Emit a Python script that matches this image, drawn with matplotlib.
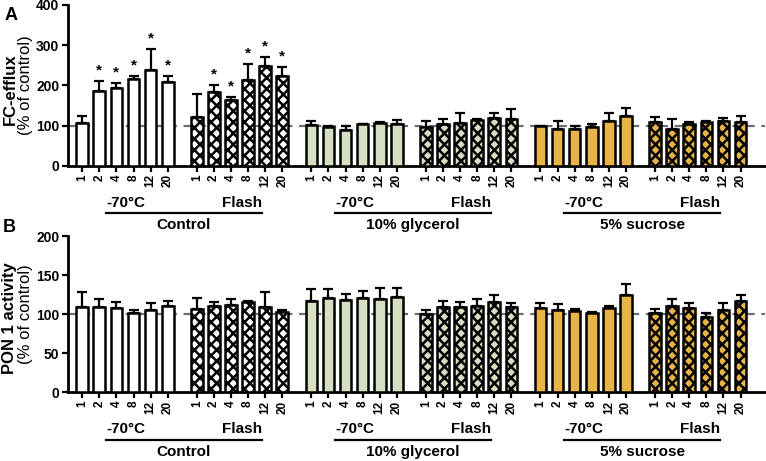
import matplotlib
matplotlib.use("Agg")
import matplotlib.pyplot as plt
import matplotlib.transforms as mtrans
import numpy as np

plt.rcParams['font.family'] = ['Liberation Sans', 'DejaVu Sans']
plt.rcParams['hatch.linewidth'] = 1.8

# ---------------- data ----------------
time_labels = ['1', '2', '4', '8', '12', '20']
series_names = ['Control -70', 'Control Flash', 'Glycerol -70', 'Glycerol Flash',
                'Sucrose -70', 'Sucrose Flash']
group_names = ['Control', '10% glycerol', '5% sucrose']
sub_left = '-70°C'
sub_right = 'Flash'

# Panel A: FC-efflux (% of control)
fc_ctrl_70 = [106, 187, 193, 217, 237, 208]
fc_ctrl_70_err = [18, 25, 12, 7, 54, 16]
fc_ctrl_flash = [122, 183, 164, 214, 249, 224]
fc_ctrl_flash_err = [57, 17, 6, 39, 22, 21]
fc_gly_70 = [101, 97, 89, 103, 107, 105]
fc_gly_70_err = [10, 2, 11, 1, 2, 8]
fc_gly_flash = [97, 103, 107, 113, 118, 117]
fc_gly_flash_err = [14, 12, 25, 3, 12, 25]
fc_suc_70 = [99, 92, 92, 97, 112, 123]
fc_suc_70_err = [1, 19, 7, 7, 20, 21]
fc_suc_flash = [108, 92, 105, 109, 111, 108]
fc_suc_flash_err = [13, 25, 4, 3, 8, 16]
fc_stars_ctrl_70 = [False, True, True, True, True, True]
fc_stars_ctrl_flash = [False, True, True, True, True, True]

# Panel B: PON 1 activity (% of control)
pon_ctrl_70 = [110, 110, 108, 102, 106, 111]
pon_ctrl_70_err = [18, 10, 8, 4, 9, 6]
pon_ctrl_flash = [107, 111, 112, 116, 109, 103]
pon_ctrl_flash_err = [14, 5, 7, 1, 19, 3]
pon_gly_70 = [117, 121, 118, 121, 120, 122]
pon_gly_70_err = [15, 11, 8, 9, 14, 12]
pon_gly_flash = [100, 110, 109, 111, 116, 109]
pon_gly_flash_err = [6, 7, 7, 9, 9, 6]
pon_suc_70 = [108, 106, 104, 102, 108, 125]
pon_suc_70_err = [7, 7, 3, 1, 3, 14]
pon_suc_flash = [102, 111, 108, 97, 105, 117]
pon_suc_flash_err = [5, 8, 7, 5, 9, 8]

# ---------------- style ----------------
WHITE = '#ffffff'
GREEN = '#d5dfc1'
ORANGE = '#e9b447'
fills = [WHITE, WHITE, GREEN, GREEN, ORANGE, ORANGE]
hatches = [None, 'xxx', None, 'xxx', None, 'xxx']
GROUP_PITCH = 6.7

W, H = 766, 461
fig = plt.figure(figsize=(W / 100, H / 100), dpi=100)


def px_axes(left, top, right, bottom):
    return fig.add_axes([left / W, 1 - bottom / H, (right - left) / W, (bottom - top) / H])


axA = px_axes(67.5, 5, 765, 165.7)
axB = px_axes(67.5, 236.3, 765, 392.3)


def draw_panel(ax, vals, errs, ymax, ystep, ylabel_bold, stars=None):
    xs_all = []
    for s, (v, e) in enumerate(zip(vals, errs)):
        xs = np.arange(6) + s * GROUP_PITCH
        xs_all.extend(xs)
        bars = ax.bar(xs, v, width=0.68, color=fills[s], edgecolor='black',
                      linewidth=1.8, zorder=3)
        if hatches[s]:
            for b in bars:
                b.set_hatch(hatches[s])
        ax.errorbar(xs, v, yerr=[np.zeros(6), e], fmt='none', ecolor='black',
                    elinewidth=1.6, capsize=3.5, capthick=1.6, zorder=2)
        if stars is not None and stars[s] is not None:
            for x, vv, ee, st in zip(xs, v, e, stars[s]):
                if st:
                    ax.annotate('*', xy=(x, vv + ee), xytext=(0, 2.5),
                                textcoords='offset points', ha='center', va='bottom',
                                fontsize=11, fontweight='bold')
    ax.axhline(100, color='#6e6e6e', linestyle=(0, (3.5, 3)), linewidth=1.6, zorder=1)
    ax.set_xlim(-0.86, 39.93)
    ax.set_ylim(0, ymax)
    ax.set_yticks(np.arange(0, ymax + 1, ystep))
    ax.set_xticks(xs_all)
    ax.set_xticklabels(time_labels * 6, rotation=90, fontsize=8.5, fontweight='bold')
    for lab in ax.get_yticklabels():
        lab.set_fontweight('bold')
        lab.set_fontsize(10)
    ax.tick_params(axis='both', direction='out', length=4, width=1.6, pad=2)
    for sp in ['top', 'right']:
        ax.spines[sp].set_visible(False)
    for sp in ['left', 'bottom']:
        ax.spines[sp].set_linewidth(2)

    # group annotations below axis
    trans = mtrans.blended_transform_factory(ax.transData, fig.transFigure)
    bottom_px = (1 - ax.get_position().y0) * H
    for p, gname in enumerate(group_names):
        c = p * 2 * GROUP_PITCH + (GROUP_PITCH + 5) / 2 + 0.1
        x0, x1 = c - 4.55, c + 4.55
        y_sub = 1 - (bottom_px + 37) / H
        y_line = 1 - (bottom_px + 47.3) / H
        y_grp = 1 - (bottom_px + 59.5) / H
        ax.plot([x0, x1], [y_line, y_line], color='black', linewidth=1.6,
                transform=trans, clip_on=False)
        ax.text(x0, y_sub, sub_left, transform=trans, ha='left', va='center',
                fontsize=11, fontweight='bold')
        ax.text(x1, y_sub, sub_right, transform=trans, ha='right', va='center',
                fontsize=11, fontweight='bold')
        ax.text(c, y_grp, gname, transform=trans, ha='center', va='center',
                fontsize=11, fontweight='bold')

    # y label
    pos = ax.get_position()
    yc = (pos.y0 + pos.y1) / 2
    fig.text(10 / W, yc - 4 / H, ylabel_bold, rotation=90, ha='center', va='center',
             fontsize=12, fontweight='bold')
    fig.text(25.5 / W, yc, '(% of control)', rotation=90, ha='center', va='center',
             fontsize=12)


draw_panel(axA,
           [fc_ctrl_70, fc_ctrl_flash, fc_gly_70, fc_gly_flash, fc_suc_70, fc_suc_flash],
           [fc_ctrl_70_err, fc_ctrl_flash_err, fc_gly_70_err, fc_gly_flash_err,
            fc_suc_70_err, fc_suc_flash_err],
           400, 100, 'FC-efflux',
           stars=[fc_stars_ctrl_70, fc_stars_ctrl_flash, None, None, None, None])
draw_panel(axB,
           [pon_ctrl_70, pon_ctrl_flash, pon_gly_70, pon_gly_flash, pon_suc_70, pon_suc_flash],
           [pon_ctrl_70_err, pon_ctrl_flash_err, pon_gly_70_err, pon_gly_flash_err,
            pon_suc_70_err, pon_suc_flash_err],
           200, 50, 'PON 1 activity')

fig.text(11 / W, 1 - 15 / H, 'A', fontsize=13, fontweight='bold', ha='center', va='center')
fig.text(9 / W, 1 - 227 / H, 'B', fontsize=13, fontweight='bold', ha='center', va='center')

fig.savefig('out.png', dpi=100)
